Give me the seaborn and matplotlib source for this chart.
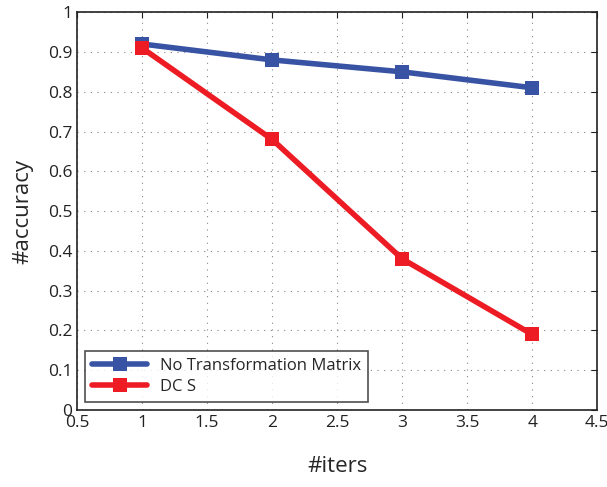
import pandas as pd
import matplotlib
matplotlib.use('Agg')
import matplotlib.pyplot as plt
import seaborn as sns

iters = [1, 2, 3, 4]
no_transform = [0.92, 0.88, 0.85, 0.81]
dcs = [0.91, 0.68, 0.38, 0.19]
series_names = ['No Transformation Matrix', 'DC S']

df = pd.DataFrame({
    'iters': iters * 2,
    'accuracy': no_transform + dcs,
    'method': [series_names[0]] * len(iters) + [series_names[1]] * len(iters),
})

sns.set_style('white')
plt.rcParams['font.family'] = ['Open Sans', 'DejaVu Sans']

fig = plt.figure(figsize=(6.07, 4.87), dpi=100)
ax = fig.add_axes([0.127, 0.158, 0.857, 0.817])

palette = {series_names[0]: '#3953a4', series_names[1]: '#ed1c24'}
sns.lineplot(data=df, x='iters', y='accuracy', hue='method', palette=palette,
             marker='s', markersize=10.5, markeredgewidth=0, linewidth=4, ax=ax)

ax.set_xlim(0.5, 4.5)
ax.set_ylim(0, 1)
ax.set_xticks([0.5, 1, 1.5, 2, 2.5, 3, 3.5, 4, 4.5])
ax.set_xticklabels(['0.5', '1', '1.5', '2', '2.5', '3', '3.5', '4', '4.5'])
ax.set_yticks([i / 10 for i in range(11)])
ax.set_yticklabels(['0', '0.1', '0.2', '0.3', '0.4', '0.5', '0.6', '0.7', '0.8', '0.9', '1'])
ax.grid(True, linestyle=(0, (1, 5)), color='#888888', linewidth=0.8)
ax.tick_params(direction='in', top=True, right=True, length=4, labelsize=12.5, colors='#222222')
for s in ax.spines.values():
    s.set_color('#222222')
    s.set_linewidth(1.2)

ax.set_xlabel('#iters', fontsize=16, labelpad=18)
ax.set_ylabel('#accuracy', fontsize=16, labelpad=10)

leg = ax.legend(loc='lower left', fontsize=12, frameon=True, fancybox=False,
                edgecolor='#222222', borderaxespad=0.5, handlelength=3.3,
                labelspacing=0.3, borderpad=0.4)
leg.get_frame().set_linewidth(1.2)

fig.savefig('out.png', dpi=100)
